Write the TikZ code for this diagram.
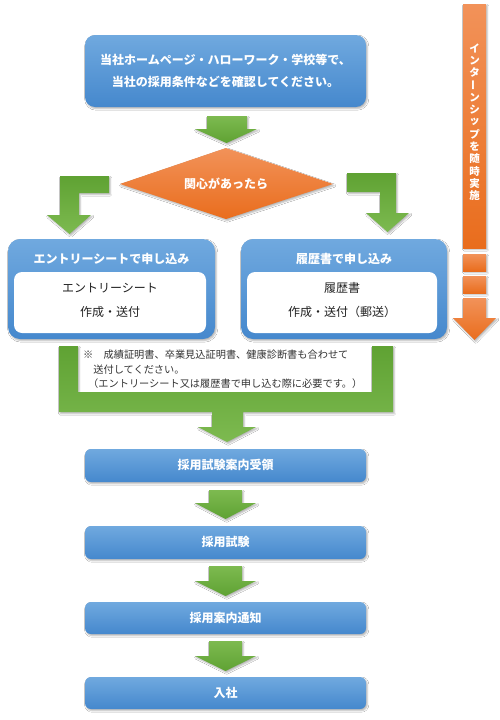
\documentclass[tikz,border=0pt]{standalone}
\usepackage{fontspec}
\setmainfont{Noto Sans CJK JP}
\usepackage{graphicx}
\usetikzlibrary{shadows,shadows.blur}
\definecolor{blueT}{HTML}{70A9DF}
\definecolor{blueB}{HTML}{4588CD}
\definecolor{grnL}{HTML}{7DBA50}
\definecolor{grnD}{HTML}{5FA233}
\definecolor{orL}{HTML}{F29259}
\definecolor{orD}{HTML}{E96D1D}
\definecolor{txtc}{HTML}{222222}
\definecolor{notec}{HTML}{333333}
\newcommand\mychoon{\rotatebox[origin=c]{90}{ー}}
\begin{document}
\begin{tikzpicture}[x=1pt,y=-1pt,
  shadowed/.style={blur shadow={shadow xshift=1.2pt,shadow yshift=-1.6pt,shadow blur steps=4,shadow blur radius=1.6pt,shadow opacity=30}},
  bluebox/.style={draw=none,top color=blueT,bottom color=blueB,rounded corners=#1,shadowed,inner sep=0pt},
  whitebox/.style={draw=none,fill=white,rounded corners=8pt,inner sep=0pt},
  hd/.style={text=white,font=\fontsize{12}{22}\selectfont\bfseries,align=center,inner sep=0pt},
  body/.style={text=txtc,font=\fontsize{12}{24}\selectfont,align=center,inner sep=0pt},
  notetxt/.style={text=notec,font=\fontsize{10.2}{12}\selectfont,anchor=west,inner sep=0pt},
  vtxt/.style={text=white,font=\fontsize{10.5}{12}\selectfont\bfseries,inner sep=0pt},
  garrow/.style={draw=none,top color=grnL,bottom color=grnD,shadowed},
  garrowrev/.style={draw=none,top color=grnD,bottom color=grnL,shadowed},
  orshape/.style={draw=none,top color=orL,bottom color=orD,shadowed}
]
\useasboundingbox[fill=white] (0,0) rectangle (500,720);

% top box
\node[bluebox=10pt,minimum width=281pt,minimum height=72pt] (top) at (225.5,71) {};
\node[hd] (toptxt) at (225.5,71) {当社ホームページ・ハローワーク・学校等で、\\当社の採用条件などを確認してください。};

% arrow top -> diamond
\path[garrow] (207,116) -- (247,116) -- (247,129) -- (257,129) -- (226.5,143) -- (195,129) -- (207,129) -- cycle;

% diamond
\path[orshape] (120,184) coordinate (dL) -- (226,148) coordinate (dT) -- (333,184) coordinate (dR) -- (226,219) coordinate (dB) -- cycle;
\node[hd] (q) at (226,184) {関心があったら};

% L arrows
\path[garrowrev] (109,176) -- (60,176) -- (60,215) -- (47,215) -- (69.5,234) -- (91,215) -- (79,215) -- (79,193) -- (109,193) -- cycle;
\path[garrowrev] (347,173) -- (396,173) -- (396,213) -- (409,213) -- (387.5,232) -- (366,213) -- (380,213) -- (380,192) -- (347,192) -- cycle;

% left application box
\node[bluebox=12pt,minimum width=207pt,minimum height=100pt] (lbox) at (111.5,289) {};
\node[whitebox,minimum width=192pt,minimum height=61pt] (lin) at (110,302.5) {};
\node[hd] (lhd) at (111.5,258.5) {エントリーシートで申し込み};
\node[body] (ltxt) at (110,300.5) {エントリーシート\\作成・送付};

% right application box
\node[bluebox=12pt,minimum width=206pt,minimum height=100pt] (rbox) at (344,289) {};
\node[whitebox,minimum width=190pt,minimum height=61pt] (rin) at (342,302.5) {};
\node[hd] (rhd) at (344,258.5) {履歴書で申し込み};
\node[body] (rtxt) at (342,300.5) {履歴書\\作成・送付（郵送）};

% merging U arrow
\path[garrowrev] (59,346) -- (78,346) -- (78,392) -- (372,392) -- (372,346) -- (393,346) -- (393,412) -- (243,412) -- (243,427) -- (256,427) -- (227,442) -- (198,427) -- (212,427) -- (212,412) -- (59,412) -- cycle;
\node[notetxt] (n1) at (83,355) {※　成績証明書、卒業見込証明書、健康診断書も合わせて};
\node[notetxt] (n2) at (83,369.5) {　送付してください。};
\node[notetxt] (n3) at (88,384) {（エントリーシート又は履歴書で申し込む際に必要です。）};

% step boxes
\node[bluebox=6pt,minimum width=281pt,minimum height=33pt] (s1) at (225.5,465.5) {};
\node[hd] (s1t) at (225.5,465) {採用試験案内受領};
\path[garrow] (209,490) -- (242,490) -- (242,503) -- (256,503) -- (225.5,519) -- (195,503) -- (209,503) -- cycle;
\node[bluebox=6pt,minimum width=281pt,minimum height=33pt] (s2) at (225.5,542.5) {};
\node[hd] (s2t) at (225.5,542) {採用試験};
\path[garrow] (209,566) -- (242,566) -- (242,581) -- (256,581) -- (225.5,596) -- (195,581) -- (209,581) -- cycle;
\node[bluebox=6pt,minimum width=281pt,minimum height=32pt] (s3) at (225.5,618) {};
\node[hd] (s3t) at (225.5,617.5) {採用案内通知};
\path[garrow] (209,641) -- (242,641) -- (242,656) -- (256,656) -- (225.5,671) -- (195,656) -- (209,656) -- cycle;
\node[bluebox=6pt,minimum width=281pt,minimum height=32pt] (s4) at (225.5,693) {};
\node[hd] (s4t) at (225.5,692.5) {入社};

% internship bar
\path[orshape] (463,4) rectangle (486,248);
\path[orshape] (463,254) rectangle (486,271);
\path[orshape] (463,276) rectangle (486,293);
\path[orshape] (463,298) -- (486,298) -- (486,318) -- (496,318) -- (474.5,340) -- (453,318) -- (463,318) -- cycle;
\foreach \c [count=\i from 0] in {イ,ン,タ,\mychoon,ン,シ,ッ,プ,を,随,時,実,施}
  \node[vtxt] (v\i) at (474.5,{48+\i*12.3}) {\c};
\end{tikzpicture}
\end{document}
